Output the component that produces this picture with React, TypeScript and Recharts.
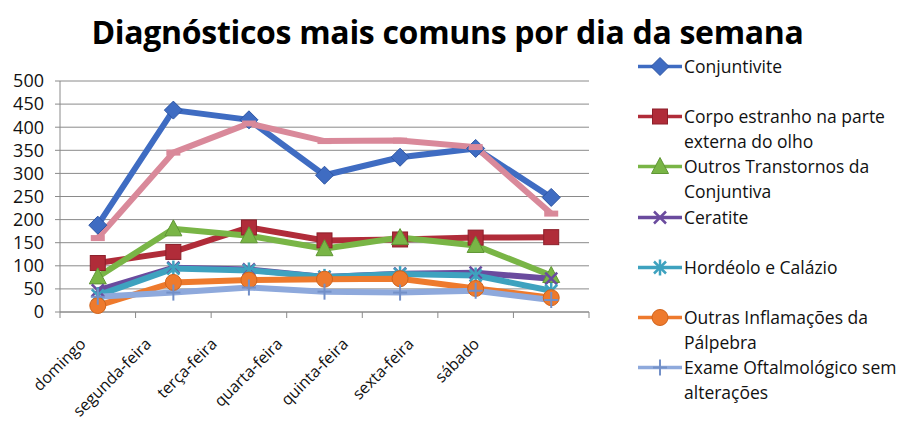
import React from 'react';
import { LineChart, Line, XAxis, YAxis, CartesianGrid } from 'recharts';

const days = ['domingo', 'segunda-feira', 'terça-feira', 'quarta-feira', 'quinta-feira', 'sexta-feira', 'sábado'];
const conjuntivite = [188, 437, 416, 296, 335, 354, 248];
const corpoEstranho = [106, 130, 183, 155, 157, 161, 162];
const outrosTranstornos = [76, 180, 165, 137, 161, 144, 79];
const ceratite = [47, 96, 92, 76, 83, 85, 72];
const hordeolo = [36, 94, 90, 76, 82, 79, 46];
const outrasInflamacoes = [14, 64, 69, 71, 72, 51, 31];
const exameOftalmologico = [33, 42, 53, 44, 42, 46, 26];
const outrosTotal = [160, 345, 408, 370, 371, 357, 213];
const yTicks = [0, 50, 100, 150, 200, 250, 300, 350, 400, 450, 500];

type SeriesDef = { key: string; name: string; color: string; dark: string; marker: string; values: number[]; inLegend: boolean };

const series: SeriesDef[] = [
  { key: 's1', name: 'Conjuntivite', color: '#3f6cc2', dark: '#2d55a3', marker: 'diamond', values: conjuntivite, inLegend: true },
  { key: 's2', name: 'Corpo estranho na parte externa do olho', color: '#b02c39', dark: '#8c1f2a', marker: 'square', values: corpoEstranho, inLegend: true },
  { key: 's3', name: 'Outros Transtornos da Conjuntiva', color: '#79b546', dark: '#5f9634', marker: 'triangle', values: outrosTranstornos, inLegend: true },
  { key: 's4', name: 'Ceratite', color: '#6a4b9e', dark: '#553a85', marker: 'x', values: ceratite, inLegend: true },
  { key: 's5', name: 'Hordéolo e Calázio', color: '#3ea2bf', dark: '#2e86a2', marker: 'star', values: hordeolo, inLegend: true },
  { key: 's6', name: 'Outras Inflamações da Pálpebra', color: '#ee7a2d', dark: '#d0631b', marker: 'circle', values: outrasInflamacoes, inLegend: true },
  { key: 's7', name: 'Exame Oftalmológico sem alterações', color: '#8ea9dc', dark: '#7390c8', marker: 'plus', values: exameOftalmologico, inLegend: true },
  { key: 's8', name: 'Outros', color: '#d9899a', dark: '#c7707f', marker: 'dash', values: outrosTotal, inLegend: false },
];

const data = days.map((d, i) => {
  const row: Record<string, string | number> = { day: d };
  series.forEach((s) => { row[s.key] = s.values[i]; });
  return row;
});

function Marker({ kind, cx, cy, color, dark }: { kind: string; cx: number; cy: number; color: string; dark: string }) {
  if (cx == null || cy == null) return null;
  switch (kind) {
    case 'diamond':
      return <path d={`M${cx},${cy - 9} L${cx + 9},${cy} L${cx},${cy + 9} L${cx - 9},${cy} Z`} fill={color} stroke={dark} strokeWidth={1} />;
    case 'square':
      return <rect x={cx - 7.5} y={cy - 7.5} width={15} height={15} fill={color} stroke={dark} strokeWidth={1} />;
    case 'triangle':
      return <path d={`M${cx},${cy - 9} L${cx + 8.5},${cy + 7} L${cx - 8.5},${cy + 7} Z`} fill={color} stroke={dark} strokeWidth={1} />;
    case 'x':
      return (
        <g stroke={color} strokeWidth={2.5}>
          <line x1={cx - 6} y1={cy - 6} x2={cx + 6} y2={cy + 6} />
          <line x1={cx - 6} y1={cy + 6} x2={cx + 6} y2={cy - 6} />
        </g>
      );
    case 'star':
      return (
        <g stroke={color} strokeWidth={2.5}>
          <line x1={cx - 6} y1={cy - 6} x2={cx + 6} y2={cy + 6} />
          <line x1={cx - 6} y1={cy + 6} x2={cx + 6} y2={cy - 6} />
          <line x1={cx} y1={cy - 8} x2={cx} y2={cy + 8} />
        </g>
      );
    case 'circle':
      return <circle cx={cx} cy={cy} r={8} fill={color} stroke={dark} strokeWidth={1} />;
    case 'plus':
      return (
        <g stroke={dark} strokeWidth={2}>
          <line x1={cx - 7} y1={cy} x2={cx + 7} y2={cy} />
          <line x1={cx} y1={cy - 8} x2={cx} y2={cy + 8} />
        </g>
      );
    case 'dash':
      return <rect x={cx - 7} y={cy - 3} width={14} height={6} fill={color} />;
    default:
      return null;
  }
}

// Category tick: draws the boundary tick marks (between categories, like Excel) and the rotated label.
function DayTick(props: any) {
  const { x, y, payload, index, visibleTicksCount, width } = props;
  const band = Number(width) / Number(visibleTicksCount);
  const axisY = y - 8;
  const left = x - band / 2;
  const right = x + band / 2;
  const ax = 54 + (x - 60) * 0.868;
  const ay = y + 25;
  return (
    <g>
      <line x1={left} y1={axisY} x2={left} y2={axisY + 6} stroke="#8a8a8a" strokeWidth={1} />
      {index === visibleTicksCount - 1 ? <line x1={right} y1={axisY} x2={right} y2={axisY + 6} stroke="#8a8a8a" strokeWidth={1} /> : null}
      <text x={ax} y={ay} transform={`rotate(-45 ${ax} ${ay})`} textAnchor="end" fontSize={16} fontFamily="'Open Sans', sans-serif" fill="#111" stroke="none">
        {payload.value}
      </text>
    </g>
  );
}

function LegendBox() {
  return (
    <div style={{ position: 'absolute', left: 636, top: 54, width: 269, fontFamily: "'Open Sans', sans-serif", fontSize: 17.5, color: '#111' }}>
      {series.filter((s) => s.inLegend).map((s) => (
        <div key={s.key} style={{ display: 'flex', height: 50.2, alignItems: 'flex-start' }}>
          <svg width={48} height={25} style={{ flex: 'none' }}>
            <line x1={2} y1={12.5} x2={46} y2={12.5} stroke={s.color} strokeWidth={3.5} />
            <Marker kind={s.marker} cx={24} cy={12.5} color={s.color} dark={s.dark} />
          </svg>
          <div style={{ width: 219, lineHeight: '25px', whiteSpace: 'normal' }}>{s.name}</div>
        </div>
      ))}
    </div>
  );
}

export default function App() {
  return (
    <div style={{ position: 'absolute', left: 0, top: 0, width: 905, height: 446, overflow: 'hidden', background: '#fff' }}>
      <div style={{ position: 'absolute', left: 0, top: 10, width: 895, textAlign: 'center', fontFamily: "'Open Sans', sans-serif", fontWeight: 700, fontSize: 32, color: '#000', letterSpacing: -0.3 }}>
        Diagnósticos mais comuns por dia da semana
      </div>
      <div style={{ position: 'absolute', left: 0, top: 0 }}>
        <LineChart width={905} height={446} data={data} margin={{ top: 81, right: 316, bottom: 0, left: 0 }}>
          <CartesianGrid vertical={false} horizontal stroke="#8a8a8a" strokeWidth={1} />
          <XAxis dataKey="day" scale="band" height={134} axisLine={{ stroke: '#8a8a8a' }} tickLine={false} interval={0} tick={<DayTick />} />
          <YAxis domain={[0, 500]} ticks={yTicks} width={60} tickSize={5} tickMargin={11} interval={0} axisLine={{ stroke: '#8a8a8a' }} tickLine={{ stroke: '#8a8a8a' }} tick={{ fontSize: 18, fill: '#111', fontFamily: "'Open Sans', sans-serif" }} />
          {series.map((s) => (
            <Line
              key={s.key}
              type="linear"
              dataKey={s.key}
              name={s.name}
              stroke={s.color}
              strokeWidth={6}
              isAnimationActive={false}
              legendType={s.inLegend ? 'line' : 'none'}
              dot={(p: any) => <Marker key={`${s.key}-${p.index}`} kind={s.marker} cx={p.cx} cy={p.cy} color={s.color} dark={s.dark} />}
              activeDot={false}
            />
          ))}
        </LineChart>
      </div>
      <LegendBox />
    </div>
  );
}
